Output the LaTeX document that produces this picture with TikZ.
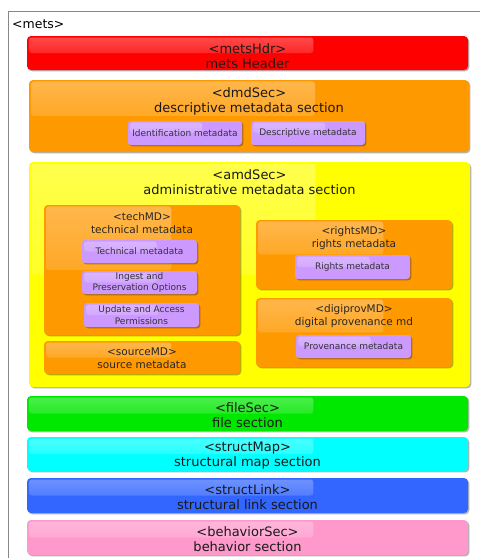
\documentclass[tikz,border=0pt]{standalone}
\usepackage{fontspec}
\setmainfont{DejaVu Sans}
\usetikzlibrary{shadows,fadings,calc}
\definecolor{cRed}{HTML}{FF0000}
\definecolor{cOrange}{HTML}{FF9900}
\definecolor{cYellow}{HTML}{FFFF00}
\definecolor{cPurple}{HTML}{CC99FF}
\definecolor{cGreen}{HTML}{00E800}
\definecolor{cCyan}{HTML}{00FFFF}
\definecolor{cBlue}{HTML}{3366FF}
\definecolor{cPink}{HTML}{FF99CC}
\definecolor{cFrame}{HTML}{888888}
\tikzset{
  gloss/.style={path picture={
    \path let \p1=(path picture bounding box.north west),
              \p2=(path picture bounding box.south east) in
      [fill=white, fill opacity=0.3, rounded corners=3pt, path fading=south]
      (\x1+2pt,\y1-1.5pt) rectangle ({\x1+0.65*(\x2-\x1)},{\y1-0.5*(\y1-\y2)});}},
  secbox/.style={rounded corners=4pt, draw=none, inner sep=0pt, align=center, gloss,
    drop shadow={shadow xshift=1.3pt, shadow yshift=-1.3pt, opacity=0.3, fill=black}},
  bigtxt/.style={font=\fontsize{13}{15}\selectfont, text=black!90},
  midtxt/.style={font=\fontsize{10.5}{13}\selectfont, text=black!85},
  smalltxt/.style={font=\fontsize{9}{11.5}\selectfont, text=black!80},
  leaf/.style={secbox, smalltxt, fill=cPurple, rounded corners=3pt},
  lbl/.style={inner sep=0pt, align=center},
}
\begin{document}
\begin{tikzpicture}[x=1pt,y=-1pt]
\useasboundingbox (0,0) rectangle (480,558);
\fill[white] (0,0) rectangle (480,558);
% outer mets frame
\coordinate (fa) at (8,558);
\coordinate (fb) at (8,11);
\coordinate (fc) at (480,11);
\draw[cFrame, line width=0.9pt] (fa) -- (fb) -- (fc);
\node[anchor=west, inner sep=0pt, font=\fontsize{12.5}{14}\selectfont] (metsT) at (12,24) {<mets>};

% metsHdr
\node[secbox, fill=cRed, minimum width=441pt, minimum height=34pt] (metsHdr) at (247.5,53) {};
\node[lbl, bigtxt] (metsHdrT) at (247.5,56) {<metsHdr>\\mets Header};

% dmdSec
\node[secbox, fill=cOrange, minimum width=440pt, minimum height=72pt] (dmdSec) at (249,116) {};
\node[lbl, bigtxt] (dmdT) at (249,101) {<dmdSec>\\descriptive metadata section};
\node[leaf, minimum width=114pt, minimum height=24pt] (ident) at (185,133) {Identification metadata};
\node[leaf, minimum width=114pt, minimum height=24pt] (descm) at (308,133) {Descriptive metadata};

% amdSec
\node[secbox, fill=cYellow, minimum width=441pt, minimum height=225pt] (amdSec) at (249.5,274.5) {};
\node[lbl, bigtxt] (amdT) at (249.5,182.5) {<amdSec>\\administrative metadata section};

\node[secbox, fill=cOrange, minimum width=196pt, minimum height=130pt] (techMD) at (142,270) {};
\node[lbl, midtxt] (techT) at (142,223) {<techMD>\\technical metadata};
\node[leaf, minimum width=115pt, minimum height=23pt] (techm) at (139.5,251.5) {Technical metadata};
\node[leaf, minimum width=115pt, minimum height=23pt] (ingest) at (139.5,282.5) {Ingest and\\Preservation Options};
\node[leaf, minimum width=115pt, minimum height=24pt] (update) at (141.5,315) {Update and Access\\Permissions};

\node[secbox, fill=cOrange, minimum width=196pt, minimum height=33pt] (sourceMD) at (142,357.5) {};
\node[lbl, midtxt] (sourceT) at (142,358.5) {<sourceMD>\\source metadata};

\node[secbox, fill=cOrange, minimum width=196pt, minimum height=69pt] (rightsMD) at (354,254.5) {};
\node[lbl, midtxt] (rightsT) at (354,238) {<rightsMD>\\rights metadata};
\node[leaf, minimum width=115pt, minimum height=24pt] (rightsm) at (352.5,267) {Rights metadata};

\node[secbox, fill=cOrange, minimum width=196pt, minimum height=69pt] (digiprovMD) at (354,332.5) {};
\node[lbl, midtxt] (digiT) at (354,316) {<digiprovMD>\\digital provenance md};
\node[leaf, minimum width=115pt, minimum height=23pt] (provm) at (353.5,346.5) {Provenance metadata};

% lower sections
\node[secbox, fill=cGreen, minimum width=441pt, minimum height=35pt] (fileSec) at (247.5,413.5) {};
\node[lbl, bigtxt] (fileT) at (247.5,415) {<fileSec>\\file section};
\node[secbox, fill=cCyan, minimum width=441pt, minimum height=34pt] (structMap) at (247.5,454) {};
\node[lbl, bigtxt] (mapT) at (247.5,456) {<structMap>\\structural map section};
\node[secbox, fill=cBlue, minimum width=441pt, minimum height=35pt] (structLink) at (247.5,495.5) {};
\node[lbl, bigtxt] (linkT) at (247.5,497.5) {<structLink>\\structural link section};
\node[secbox, fill=cPink, minimum width=441pt, minimum height=35pt] (behaviorSec) at (247.5,537.5) {};
\node[lbl, bigtxt] (behT) at (247.5,539) {<behaviorSec>\\behavior section};
\end{tikzpicture}
\end{document}
